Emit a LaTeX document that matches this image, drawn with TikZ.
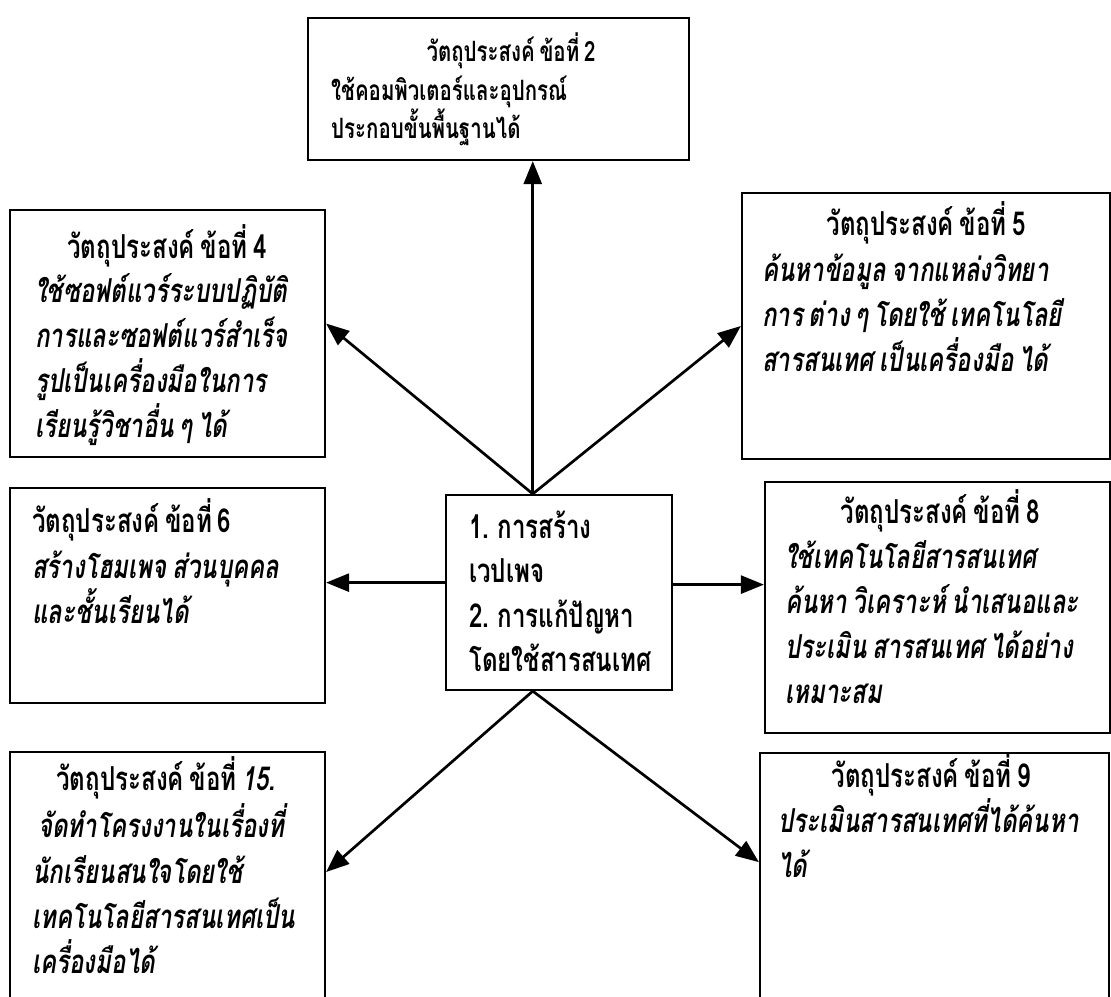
\documentclass[tikz,border=0pt]{standalone}
\usepackage{fontspec}
\usetikzlibrary{arrows.meta,calc}
\newfontfamily\thai[Script=Thai,FakeStretch=0.73,WordSpace=0.7,BoldFont={Loma Bold},ItalicFont={Loma Oblique},BoldItalicFont={Loma Bold Oblique}]{Loma}

\begin{document}
\begin{tikzpicture}[x=1pt,y=-1pt,
  box/.style={draw, rectangle, line width=2.2pt, inner sep=0pt},
  head/.style={font={\thai\bfseries\fontsize{33}{33}\selectfont}, anchor=base, inner sep=0pt},
  body/.style={font={\thai\bfseries\itshape\fontsize{33}{33}\selectfont}, anchor=base west, inner sep=0pt},
  upright/.style={font={\thai\bfseries\fontsize{33}{33}\selectfont}, anchor=base west, inner sep=0pt},
  smallhead/.style={font={\thai\bfseries\fontsize{28}{28}\selectfont}, anchor=base, inner sep=0pt},
  smallbody/.style={font={\thai\bfseries\fontsize{28}{28}\selectfont}, anchor=base west, inner sep=0pt},
  link/.style={line width=2.7pt, -{Triangle[length=23pt,width=18pt]}}]
\useasboundingbox (0,0) rectangle (1111,996);
\fill[white] (0,0) rectangle (1111,996);
\clip (0,0) rectangle (1111,996);

% boxes
\node[box, minimum width=381pt, minimum height=142pt] (b2) at (498.5,89) {};
\node[box, minimum width=315pt, minimum height=247pt] (b4) at (167.5,333.5) {};
\node[box, minimum width=368pt, minimum height=266pt] (b5) at (926,326) {};
\node[box, minimum width=315pt, minimum height=215pt] (b6) at (167.5,595.5) {};
\node[box, minimum width=226pt, minimum height=195pt] (c) at (559,592.5) {};
\node[box, minimum width=345pt, minimum height=251pt] (b8) at (937.5,607.5) {};
\node[box, minimum width=315pt, minimum height=270pt] (b15) at (167.5,887) {};
\node[box, minimum width=349pt, minimum height=270pt] (b9) at (934.5,888) {};

% objective 2
\node[smallhead] (h2) at (511,61) {วัตถุประสงค์ ข้อที่ 2};
\node[smallbody] (t2a) at (331,100) {ใช้คอมพิวเตอร์และอุปกรณ์};
\node[smallbody] (t2b) at (331,138) {ประกอบขั้นพื้นฐานได้};

% objective 4
\node[head] (h4) at (167,258) {วัตถุประสงค์ ข้อที่ 4};
\node[body] (t4a) at (35,302) {ใช้ซอฟต์แวร์ระบบปฏิบัติ};
\node[body] (t4b) at (35,347) {การและซอฟต์แวร์สำเร็จ};
\node[body] (t4c) at (35,392) {รูปเป็นเครื่องมือในการ};
\node[body] (t4d) at (35,437) {เรียนรู้วิชาอื่น ๆ ได้};

% objective 5
\node[head] (h5) at (926,235) {วัตถุประสงค์ ข้อที่ 5};
\node[body] (t5a) at (762,281) {ค้นหาข้อมูล จากแหล่งวิทยา};
\node[body] (t5b) at (762,326) {การ ต่าง ๆ โดยใช้ เทคโนโลยี};
\node[body] (t5c) at (762,371) {สารสนเทศ เป็นเครื่องมือ ได้};

% objective 6
\node[upright] (h6) at (32,532) {วัตถุประสงค์ ข้อที่ 6};
\node[body] (t6a) at (32,578) {สร้างโฮมเพจ ส่วนบุคคล};
\node[body] (t6b) at (32,623) {และชั้นเรียนได้};

% centre topics
\node[upright] (ca) at (469,538) {1. การสร้าง};
\node[upright] (cb) at (469,582) {เวปเพจ};
\node[upright] (cc) at (469,627) {2. การแก้ปัญหา};
\node[upright] (cd) at (469,671) {โดยใช้สารสนเทศ};

% objective 8
\node[head] (h8) at (940,523) {วัตถุประสงค์ ข้อที่ 8};
\node[body] (t8a) at (785,568) {ใช้เทคโนโลยีสารสนเทศ};
\node[body] (t8b) at (785,613) {ค้นหา วิเคราะห์ นำเสนอและ};
\node[body] (t8c) at (785,658) {ประเมิน สารสนเทศ ได้อย่าง};
\node[body] (t8d) at (785,703) {เหมาะสม};

% objective 15
\node[head] (h15) at (166,790) {วัตถุประสงค์ ข้อที่ \textit{15.}};
\node[body] (t15a) at (38,837) {จัดทำโครงงานในเรื่องที่};
\node[body] (t15b) at (32,883) {นักเรียนสนใจโดยใช้};
\node[body] (t15c) at (32,928) {เทคโนโลยีสารสนเทศเป็น};
\node[body] (t15d) at (32,973) {เครื่องมือได้};

% objective 9
\node[head] (h9) at (931,787) {วัตถุประสงค์ ข้อที่ 9};
\node[body] (t9a) at (778,832) {ประเมินสารสนเทศที่ได้ค้นหา};
\node[body] (t9b) at (778,877) {ได้};

% connectors
\coordinate (ctop) at ($(c.north west)!0.385!(c.north east)$);
\coordinate (cbot) at ($(c.south west)!0.385!(c.south east)$);
\coordinate (cl) at ($(c.north west)!0.45!(c.south west)$);
\coordinate (cr) at ($(c.north east)!0.46!(c.south east)$);
\draw[link] (ctop) -- (ctop |- b2.south);
\draw[link] (ctop) -- ($(b4.north east)!0.46!(b4.south east)$);
\draw[link] (ctop) -- ($(b5.north west)!0.5!(b5.south west)$);
\draw[link] (cl) -- (cl -| b6.east);
\draw[link] (cr) -- (cr -| b8.west);
\draw[link] (cbot) -- ($(b15.north east)!0.445!(b15.south east)$);
\draw[link] (cbot) -- ($(b9.north west)!0.405!(b9.south west)$);
\end{tikzpicture}
\end{document}
